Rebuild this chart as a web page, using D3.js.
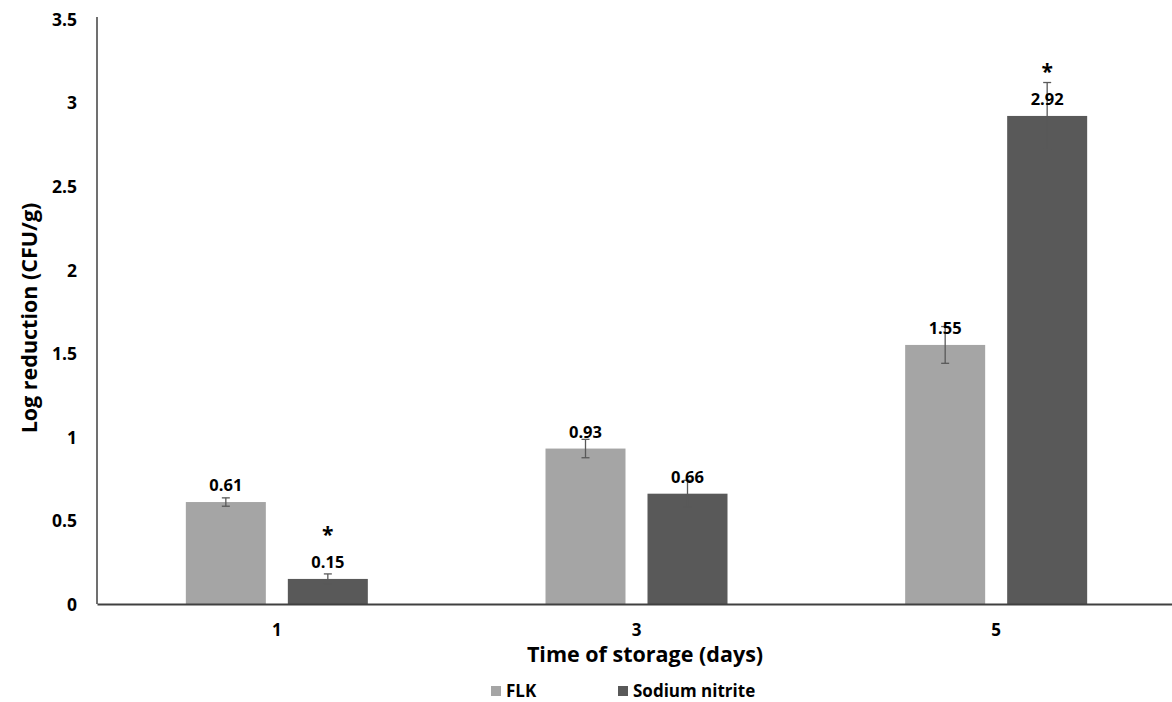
<!DOCTYPE html>
<html>
<head>
<meta charset="utf-8">
<script src="https://cdn.jsdelivr.net/npm/d3@7"></script>
<style>
  body { margin: 0; background: #fff; }
  svg text { font-family: "Open Sans", Lato, sans-serif; font-weight: bold; fill: #000; }
</style>
</head>
<body>
<div id="chart"></div>
<script>
// data
const days = ["1", "3", "5"];
const seriesNames = ["FLK", "Sodium nitrite"];
const flk = [0.61, 0.93, 1.55];
const nitrite = [0.15, 0.66, 2.92];
const flkErr = [0.025, 0.055, 0.11];
const nitriteErr = [0.03, 0.08, 0.2];
const nitriteStar = [true, false, true];
const yTicks = [0, 0.5, 1, 1.5, 2, 2.5, 3, 3.5];

const colors = ["#a5a5a5", "#595959"];
const width = 1172, height = 702;
const margin = {top: 19, right: -4, bottom: 98, left: 97};

const svg = d3.select("#chart").append("svg")
    .attr("width", width)
    .attr("height", height);

const x = d3.scaleBand()
    .domain(days)
    .range([margin.left, width - margin.right]);

// two bars of 80px with a 22px gap
const x1 = d3.scaleBand()
    .domain(seriesNames)
    .range([0, 182])
    .paddingInner(22 / 102);

const y = d3.scaleLinear()
    .domain([0, 3.5])
    .range([height - margin.bottom, margin.top]);

const rows = days.map((d, i) => ({
    day: d,
    values: [
        {name: seriesNames[0], v: flk[i], e: flkErr[i], star: false},
        {name: seriesNames[1], v: nitrite[i], e: nitriteErr[i], star: nitriteStar[i]}
    ]
}));

const groups = svg.append("g").selectAll("g")
    .data(rows)
    .join("g")
    .attr("transform", d => "translate(" + (x(d.day) + x.bandwidth() / 2 - 91) + ",0)");

// bars
groups.selectAll("rect")
    .data(d => d.values)
    .join("rect")
    .attr("x", d => x1(d.name))
    .attr("y", d => y(d.v))
    .attr("width", x1.bandwidth())
    .attr("height", d => y(0) - y(d.v))
    .attr("fill", (d, i) => colors[i]);

// error bars
const eb = groups.selectAll("g.err")
    .data(d => d.values)
    .join("g")
    .attr("class", "err")
    .attr("stroke", "#595959")
    .attr("stroke-width", 1.3);

eb.append("line")
    .attr("x1", d => x1(d.name) + x1.bandwidth() / 2)
    .attr("x2", d => x1(d.name) + x1.bandwidth() / 2)
    .attr("y1", d => y(d.v - d.e))
    .attr("y2", d => y(d.v + d.e));
[-1, 1].forEach(s => {
    eb.append("line")
        .attr("x1", d => x1(d.name) + x1.bandwidth() / 2 - 4)
        .attr("x2", d => x1(d.name) + x1.bandwidth() / 2 + 4)
        .attr("y1", d => y(d.v + s * d.e))
        .attr("y2", d => y(d.v + s * d.e));
});

// value labels
groups.selectAll("text.val")
    .data(d => d.values)
    .join("text")
    .attr("class", "val")
    .attr("x", d => x1(d.name) + x1.bandwidth() / 2)
    .attr("y", d => y(d.v) - 11)
    .attr("text-anchor", "middle")
    .style("font-size", "16.5px")
    .text(d => d.v.toFixed(2));

// significance stars
groups.selectAll("text.star")
    .data(d => d.values.filter(v => v.star))
    .join("text")
    .attr("class", "star")
    .attr("x", d => x1(d.name) + x1.bandwidth() / 2)
    .attr("y", d => y(d.v) - 37)
    .attr("text-anchor", "middle")
    .style("font-size", "21px")
    .text("*");

// y axis
const yAxis = svg.append("g")
    .attr("transform", "translate(" + margin.left + ",0)")
    .call(d3.axisLeft(y).tickValues(yTicks).tickSize(0).tickPadding(20)
        .tickFormat(d => d3.format("")(d)));
yAxis.select(".domain").attr("stroke", "#404040").attr("stroke-width", 1.5)
    .attr("d", "M0," + (margin.top - 2) + "V" + y(0));
yAxis.selectAll("text").style("font-size", "17.5px").attr("fill", "#000")
    .attr("dy", "0.36em");

// x axis
const xAxis = svg.append("g")
    .attr("transform", "translate(0," + y(0) + ")")
    .call(d3.axisBottom(x).tickSize(0).tickPadding(20));
xAxis.select(".domain").attr("stroke", "#404040").attr("stroke-width", 2);
xAxis.selectAll("text").style("font-size", "17px").attr("fill", "#000");

// axis titles
svg.append("text")
    .attr("transform", "translate(37,318) rotate(-90)")
    .attr("text-anchor", "middle")
    .style("font-size", "21.5px")
    .text("Log reduction (CFU/g)");

svg.append("text")
    .attr("x", 645)
    .attr("y", 662)
    .attr("text-anchor", "middle")
    .style("font-size", "21.5px")
    .text("Time of storage (days)");

// legend
const legendX = [491, 618];
const legend = svg.append("g").selectAll("g")
    .data(seriesNames)
    .join("g")
    .attr("transform", (d, i) => "translate(" + legendX[i] + ",686)");
legend.append("rect")
    .attr("width", 10).attr("height", 10)
    .attr("fill", (d, i) => colors[i]);
legend.append("text")
    .attr("x", 15).attr("y", 11)
    .style("font-size", "17px")
    .text(d => d);
</script>
</body>
</html>
